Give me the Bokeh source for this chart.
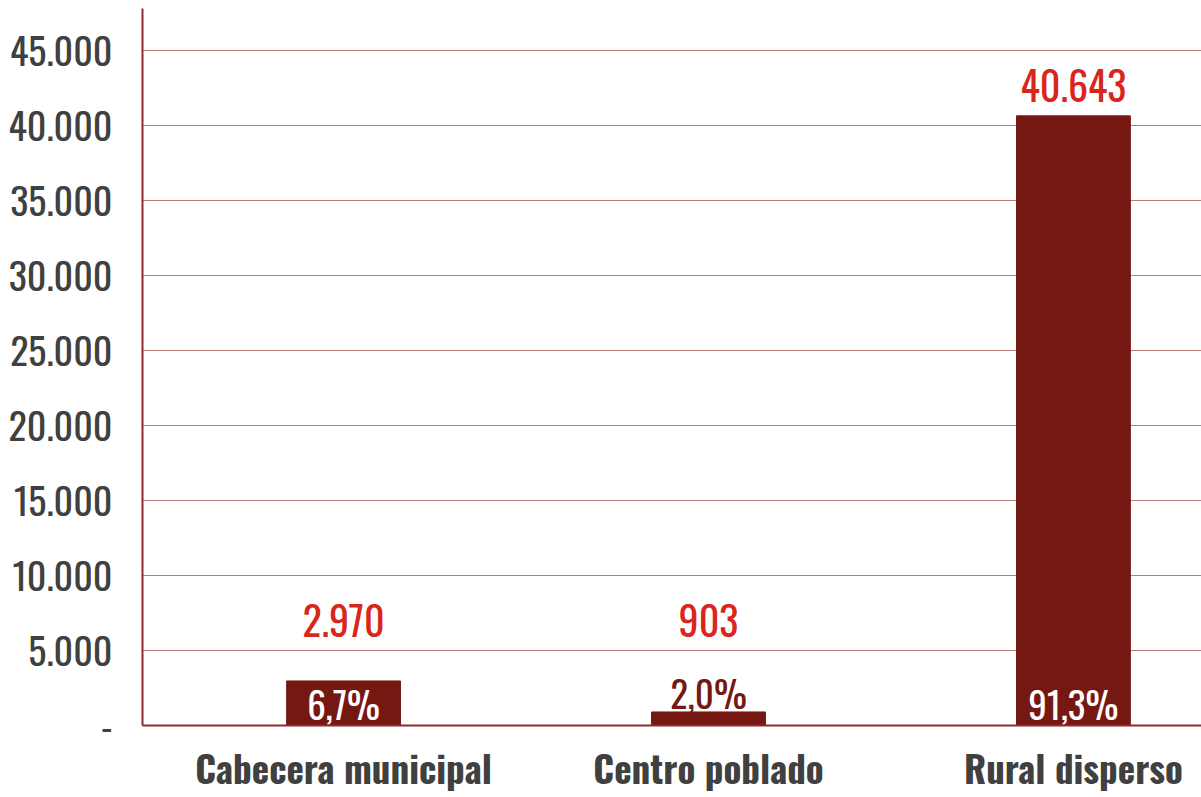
from bokeh.plotting import figure
from bokeh.models import ColumnDataSource, FixedTicker, Range1d
from bokeh.core.properties import value
from bokeh.embed import file_html
from bokeh.resources import INLINE

categories = ["Cabecera municipal", "Centro poblado", "Rural disperso"]
values = [2970, 903, 40643]
percents = [6.7, 2.0, 91.3]
y_ticks = [0, 5000, 10000, 15000, 20000, 25000, 30000, 35000, 40000, 45000]

FONT = "'Oswald', 'Liberation Sans Narrow', 'DejaVu Sans Condensed', 'Roboto Condensed', Roboto, sans-serif"
BAR = "#761812"
RED = "#d9261c"
GREY = "#404040"

xs = list(range(len(categories)))

def fmt(v):
    return f"{v:,}".replace(",", ".")

val_lbl = [fmt(v) for v in values]
val_y = [max(v + 2000, 7000) for v in values]
pct_lbl = [f"{p:.1f}".replace(".", ",") + "%" for p in percents]
inside = [v > 2000 for v in values]
pct_y = [1450 if ins else v + 1300 for v, ins in zip(values, inside)]
pct_col = ["white" if ins else BAR for ins in inside]

src = ColumnDataSource(dict(x=xs, v=values, val_lbl=val_lbl, val_y=val_y,
                            pct_lbl=pct_lbl, pct_y=pct_y, pct_col=pct_col))

p = figure(width=1201, height=797, output_backend="svg", toolbar_location=None,
           x_range=Range1d(-0.551, 2.351), y_range=Range1d(0, 47800),
           min_border_left=142, min_border_right=0, min_border_top=8, min_border_bottom=72)
p.outline_line_color = None
p.background_fill_color = "white"

p.vbar(x="x", top="v", bottom=0, width=0.312, color=BAR, source=src)

p.text(x="x", y="val_y", text="val_lbl", source=src, text_align="center",
       text_baseline="middle", text_color=RED, text_font=value(FONT),
       text_font_size=value("40px"))
p.text(x="x", y="pct_y", text="pct_lbl", source=src, text_align="center",
       text_baseline="middle", text_color="pct_col", text_font=value(FONT),
       text_font_size=value("37px"))

# y axis
p.yaxis.ticker = FixedTicker(ticks=y_ticks)
p.yaxis.major_label_overrides = {t: (fmt(t) if t else "-") for t in y_ticks}
p.yaxis.major_label_text_font = FONT
p.yaxis.major_label_text_font_size = "38px"
p.yaxis.major_label_text_color = GREY
p.yaxis.major_label_standoff = 30
p.yaxis.major_tick_out = 0
p.yaxis.major_tick_in = 0
p.yaxis.major_tick_line_color = None
p.yaxis.minor_tick_line_color = None
p.yaxis.axis_line_color = "#8e2a2a"
p.yaxis.axis_line_width = 2

# x axis
p.xaxis.ticker = FixedTicker(ticks=xs)
p.xaxis.major_label_overrides = {i: c for i, c in zip(xs, categories)}
p.xaxis.major_label_text_font = FONT
p.xaxis.major_label_text_font_style = "bold"
p.xaxis.major_label_text_font_size = "37px"
p.xaxis.major_label_text_color = GREY
p.xaxis.major_label_standoff = 14
p.xaxis.major_tick_out = 0
p.xaxis.major_tick_in = 0
p.xaxis.major_tick_line_color = None
p.xaxis.minor_tick_line_color = None
p.xaxis.axis_line_color = "#8e2a2a"
p.xaxis.axis_line_width = 2

p.xgrid.grid_line_color = None
p.ygrid.grid_line_color = "#a05050"
p.ygrid.grid_line_alpha = 0.75
p.ygrid.grid_line_width = 1

open("out.html", "w").write(file_html(p, INLINE))
